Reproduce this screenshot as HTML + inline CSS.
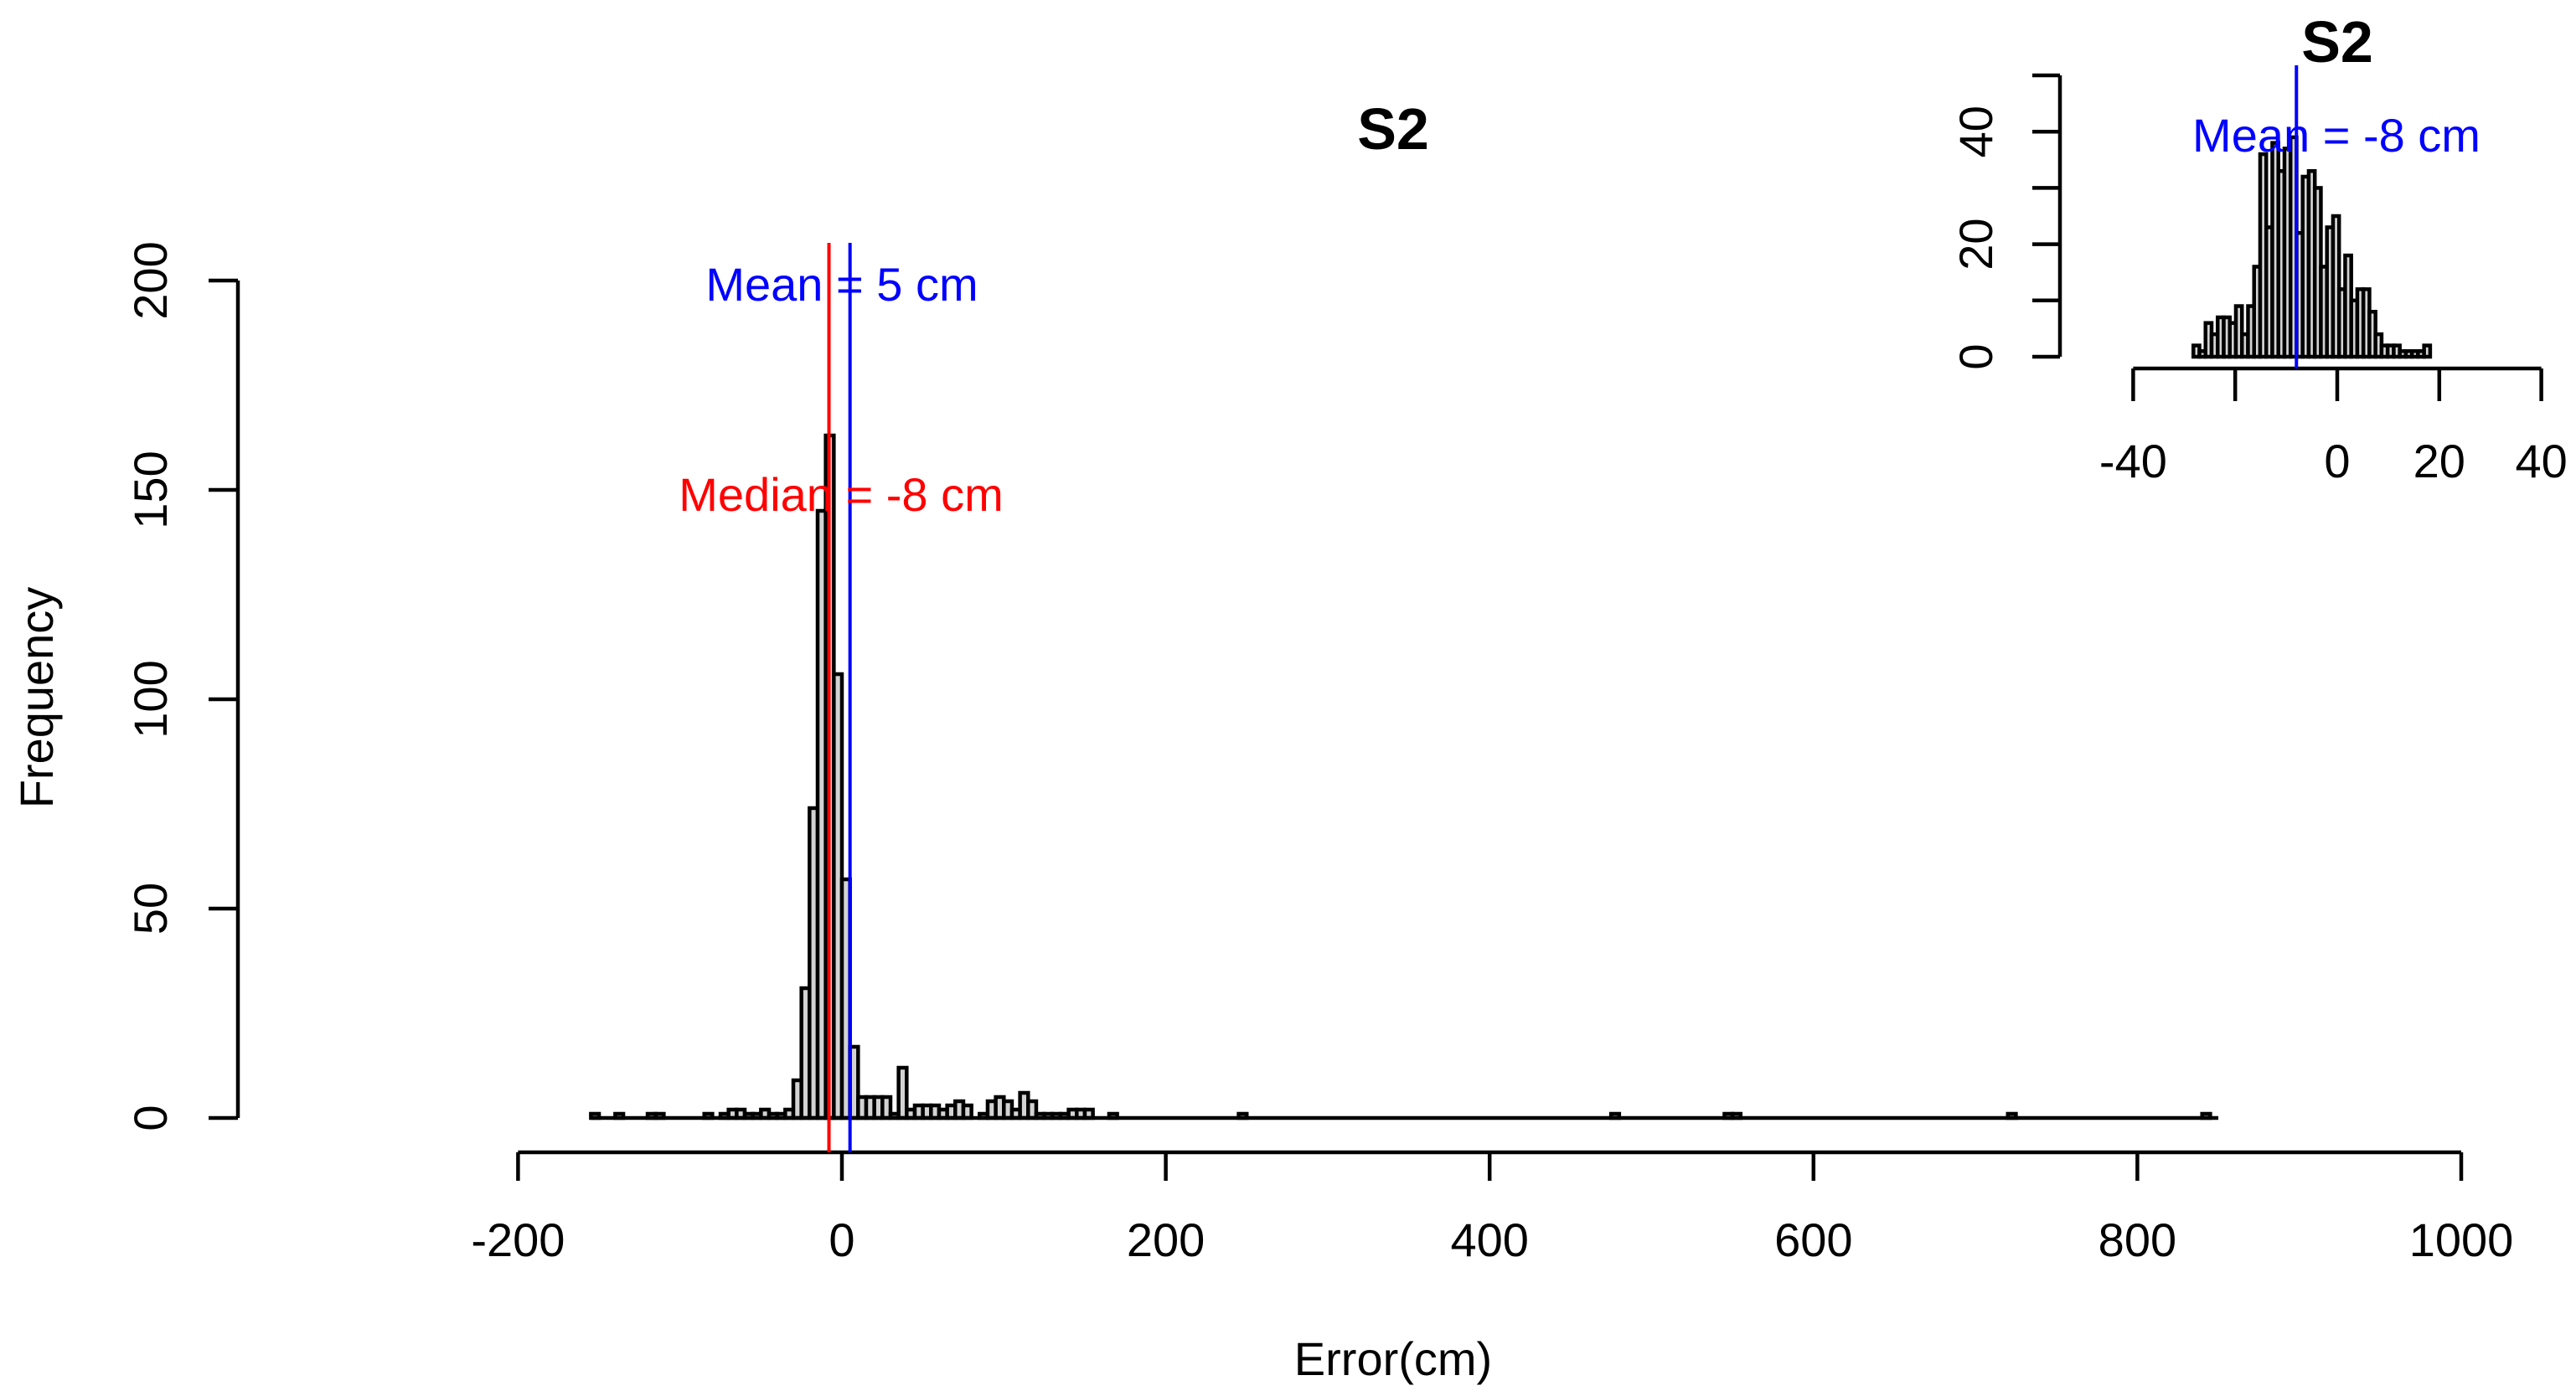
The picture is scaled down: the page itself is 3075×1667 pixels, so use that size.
<!DOCTYPE html>
<html><head><meta charset="utf-8"><style>
html,body{margin:0;padding:0;background:#fff}
svg{display:block;font-family:"Liberation Sans",Arial,sans-serif}
</style></head><body>
<svg id="chart" width="3075" height="1667" viewBox="0 0 3075 1667" xmlns="http://www.w3.org/2000/svg">
<rect width="3075" height="1667" fill="#fff"/>
<g id="main"></g>
<g id="inset"></g>
</svg>
<script>
// ---- main histogram data (bin width 5) ----
const mainBinStarts = [-155,-140,-120,-115,-85,-75,-70,-65,-60,-55,-50,-45,-40,-35,-30,-25,-20,-15,-10,-5,0,5,10,15,20,25,30,35,40,45,50,55,60,65,70,75,85,90,95,100,105,110,115,120,125,130,135,140,145,150,165,245,475,545,550,720,840];
const mainCounts    = [1,1,1,1,1,1,2,2,1,1,2,1,1,2,9,31,74,145,163,106,57,17,5,5,5,5,1,12,2,3,3,3,2,3,4,3,1,4,5,4,2,6,4,1,1,1,1,2,2,2,1,1,1,1,1,1,1];
const mainBinWidth = 5;
const mainXTicks = [-200,0,200,400,600,800,1000];
const mainYTicks = [0,50,100,150,200];
const mainMean = 5, mainMedian = -8;
// ---- inset histogram data ----
const insetStart = -28.2, insetBinWidth = 1.19;
const insetCounts = [2,1,6,4,7,7,6,9,4,9,16,36,23,38,33,37,39,22,32,33,30,16,23,25,12,18,10,12,12,8,4,2,2,2,1,1,1,1,2];
const insetXTicks = [-40,-20,0,20,40];
const insetXLabels = ["-40","","0","20","40"];
const insetYTicks = [0,10,20,30,40,50];
const insetYLabels = [0,20,40];
const insetMean = -8;

const NS="http://www.w3.org/2000/svg";
function mk(parent,tag,attrs,text){const e=document.createElementNS(NS,tag);for(const k in attrs)e.setAttribute(k,attrs[k]);if(text!==undefined)e.textContent=text;parent.appendChild(e);return e;}

const SW=4.5;
// main axes
const mx = v => 1005 + v*1.933;
const my = v => 1335 - v*5;
const main=document.getElementById('main');
for(let i=0;i<mainBinStarts.length;i++){
  const x0=mx(mainBinStarts[i]), x1=mx(mainBinStarts[i]+mainBinWidth);
  const r=mk(main,'rect',{x:x0,y:my(mainCounts[i]),width:x1-x0,height:my(0)-my(mainCounts[i]),fill:'#d3d3d3',stroke:'#000','stroke-width':SW});
  
  
}
let l=mk(main,'line',{x1:mx(-155),x2:mx(850),y1:my(0),y2:my(0),stroke:'#000','stroke-width':SW});


// x axis
l=mk(main,'line',{x1:mx(-200),x2:mx(1000),y1:1376,y2:1376,stroke:'#000','stroke-width':SW});


mainXTicks.forEach(t=>{
  const tk=mk(main,'line',{x1:mx(t),x2:mx(t),y1:1376,y2:1410,stroke:'#000','stroke-width':SW});
  
  
  const tx=mk(main,'text',{x:mx(t),y:1500,'font-size':56,'text-anchor':'middle'},String(t));
  
  
});
// y axis
l=mk(main,'line',{x1:284,x2:284,y1:my(0),y2:my(200),stroke:'#000','stroke-width':SW});


mainYTicks.forEach(t=>{
  const tk=mk(main,'line',{x1:249,x2:284,y1:my(t),y2:my(t),stroke:'#000','stroke-width':SW});
  
  
  const tx=mk(main,'text',{x:0,y:0,'font-size':56,'text-anchor':'middle',transform:`translate(199,${my(t)}) rotate(-90)`},String(t));
  
  
});
// mean / median lines
l=mk(main,'line',{x1:mx(mainMedian),x2:mx(mainMedian),y1:290,y2:1376,stroke:'#ff0000','stroke-width':4});


l=mk(main,'line',{x1:mx(mainMean),x2:mx(mainMean),y1:290,y2:1376,stroke:'#0000ff','stroke-width':4});


let t=mk(main,'text',{x:1005,y:359,'font-size':56,'text-anchor':'middle',fill:'#0000ff'},'Mean = '+mainMean+' cm');


t=mk(main,'text',{x:1004,y:610,'font-size':56,'text-anchor':'middle',fill:'#ff0000'},'Median = '+mainMedian+' cm');


t=mk(main,'text',{x:1663,y:178,'font-size':70,'font-weight':'bold','text-anchor':'middle'},'S2');


t=mk(main,'text',{x:1663,y:1642,'font-size':56,'text-anchor':'middle'},'Error(cm)');


t=mk(main,'text',{x:0,y:0,'font-size':56,'text-anchor':'middle',transform:'translate(63,833) rotate(-90)'},'Frequency');



// inset
const ix = v => 2790 + v*6.09;
const iy = v => 426 - v*6.72;
const inset=document.getElementById('inset');
for(let i=0;i<insetCounts.length;i++){
  const a=insetStart+i*insetBinWidth;
  const x0=ix(a), x1=ix(a+insetBinWidth);
  const r=mk(inset,'rect',{x:x0,y:iy(insetCounts[i]),width:x1-x0,height:iy(0)-iy(insetCounts[i]),fill:'#d3d3d3',stroke:'#000','stroke-width':SW});
  
  
}
l=mk(inset,'line',{x1:ix(-40),x2:ix(40),y1:440,y2:440,stroke:'#000','stroke-width':SW});


insetXTicks.forEach((v,i)=>{
  const tk=mk(inset,'line',{x1:ix(v),x2:ix(v),y1:440,y2:479,stroke:'#000','stroke-width':SW});
  
  
  if(insetXLabels[i]){
    const tx=mk(inset,'text',{x:ix(v),y:570,'font-size':56,'text-anchor':'middle'},insetXLabels[i]);
    
    
  }
});
l=mk(inset,'line',{x1:2459,x2:2459,y1:iy(0),y2:iy(50),stroke:'#000','stroke-width':SW});


insetYTicks.forEach(v=>{
  const tk=mk(inset,'line',{x1:2426,x2:2459,y1:iy(v),y2:iy(v),stroke:'#000','stroke-width':SW});
  
  
});
insetYLabels.forEach(v=>{
  const tx=mk(inset,'text',{x:0,y:0,'font-size':56,'text-anchor':'middle',transform:`translate(2378,${iy(v)}) rotate(-90)`},String(v));
  
  
});
l=mk(inset,'line',{x1:ix(insetMean),x2:ix(insetMean),y1:78,y2:440,stroke:'#0000ff','stroke-width':4});


t=mk(inset,'text',{x:2789,y:181,'font-size':56,'text-anchor':'middle',fill:'#0000ff'},'Mean = '+insetMean+' cm');


t=mk(inset,'text',{x:2790,y:74,'font-size':70,'font-weight':'bold','text-anchor':'middle'},'S2');


</script>
</body></html>
